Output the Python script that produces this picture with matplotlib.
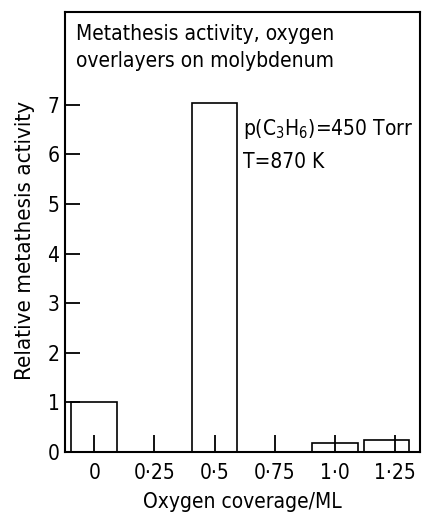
import numpy as np
import matplotlib.pyplot as plt
import matplotlib as mpl

mpl.rcParams.update(
    {
        "font.family": "DejaVu Sans",
        "font.stretch": "condensed",
        "font.size": 15,
        "axes.linewidth": 1.5,
    }
)

# Oxygen coverage (ML) and relative metathesis activity
coverage = [0.0, 0.5, 1.0, 1.25]
activity = [1.0, 7.03, 0.18, 0.25]

tick_values = [0, 0.25, 0.5, 0.75, 1.0, 1.25]
tick_labels = ["0", "0·25", "0·5", "0·75", "1·0", "1·25"]

BAR_W = 0.19


def main():
    fig = plt.figure(figsize=(4.22, 5.12), dpi=100)
    ax = fig.add_axes([0.154, 0.117, 0.841, 0.860])

    # last bar sits slightly left of its tick so it clears the frame
    centers = np.array(coverage)
    centers[-1] -= 0.035
    ax.bar(centers, activity, width=BAR_W, facecolor="white",
           edgecolor="black", linewidth=1.2, zorder=1)

    ax.set_xlim(-0.122, 1.354)
    ax.set_ylim(0, 8.87)

    ax.set_xticks(tick_values)
    ax.set_xticklabels(tick_labels)
    ax.set_yticks(range(8))
    ax.tick_params(axis="x", direction="in", length=12, width=1.3, pad=8)
    ax.tick_params(axis="y", direction="in", length=11, width=1.3, pad=4)

    ax.set_xlabel("Oxygen coverage/ML", labelpad=6)
    ax.set_ylabel("Relative metathesis activity", fontsize=16)
    ax.yaxis.set_label_coords(-0.085, 0.48)

    ax.text(0.03, 0.973, "Metathesis activity, oxygen\noverlayers on molybdenum",
            transform=ax.transAxes, ha="left", va="top", linespacing=1.45)
    ax.text(0.618, 6.5, r"p(C$_3$H$_6$)=450 Torr", ha="left", va="center")
    ax.text(0.618, 5.85, "T=870 K", ha="left", va="center")

    fig.savefig("out.png", dpi=100)
    plt.close(fig)


if __name__ == "__main__":
    main()
